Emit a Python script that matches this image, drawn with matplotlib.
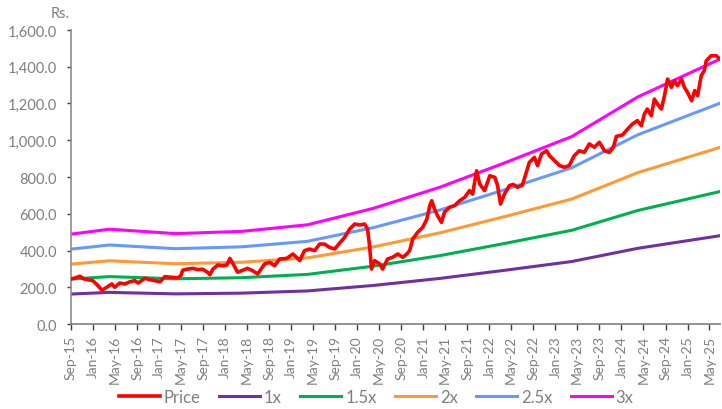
import numpy as np
import pandas as pd
import matplotlib
matplotlib.use('Agg')
import matplotlib.pyplot as plt
import matplotlib.dates as mdates
from matplotlib.ticker import FuncFormatter

plt.rcParams['font.family'] = ['Lato', 'DejaVu Sans']

# Kurs
price_dates = [
    '2015-09-01', '2015-09-23', '2015-10-20', '2015-11-12', '2015-12-04', '2015-12-31',
    '2016-01-28', '2016-02-19', '2016-03-17', '2016-04-14', '2016-04-30', '2016-05-28',
    '2016-06-25', '2016-07-23', '2016-08-19', '2016-09-06', '2016-10-14', '2016-11-11',
    '2016-12-08', '2017-01-05', '2017-02-02', '2017-03-11', '2017-04-13', '2017-04-30',
    '2017-05-11', '2017-06-02', '2017-07-05', '2017-08-02', '2017-08-30', '2017-09-27',
    '2017-10-08', '2017-10-25', '2017-11-21', '2017-12-19', '2018-01-10', '2018-01-27',
    '2018-02-12', '2018-03-10', '2018-04-07', '2018-05-04', '2018-06-02', '2018-06-29',
    '2018-08-07', '2018-09-04', '2018-10-01', '2018-10-29', '2018-12-07', '2019-01-10',
    '2019-02-06', '2019-02-17', '2019-03-15', '2019-04-12', '2019-05-10', '2019-06-07',
    '2019-07-04', '2019-08-01', '2019-08-29', '2019-09-26', '2019-10-24', '2019-11-20',
    '2019-12-18', '2020-01-15', '2020-02-11', '2020-02-27', '2020-03-09', '2020-03-20',
    '2020-04-06', '2020-05-04', '2020-05-20', '2020-06-17', '2020-07-14', '2020-08-12',
    '2020-09-09', '2020-09-30', '2020-10-17', '2020-11-03', '2020-11-30', '2020-12-28',
    '2021-01-20', '2021-02-05', '2021-02-16', '2021-03-03', '2021-03-20', '2021-04-11',
    '2021-04-27', '2021-05-25', '2021-06-22', '2021-07-20', '2021-08-17', '2021-09-13',
    '2021-09-30', '2021-10-22', '2021-11-08', '2021-12-05', '2022-01-03', '2022-01-31',
    '2022-02-15', '2022-03-03', '2022-03-25', '2022-04-21', '2022-05-13', '2022-06-05',
    '2022-07-02', '2022-07-24', '2022-08-10', '2022-09-07', '2022-09-24', '2022-10-16',
    '2022-11-13', '2022-11-29', '2022-12-27', '2023-01-24', '2023-02-19', '2023-03-18',
    '2023-04-15', '2023-05-13', '2023-06-10', '2023-07-07', '2023-08-04', '2023-09-01',
    '2023-09-29', '2023-10-26', '2023-11-17', '2023-12-04', '2024-01-07', '2024-02-04',
    '2024-03-01', '2024-03-29', '2024-04-20', '2024-05-07', '2024-05-23', '2024-06-14',
    '2024-07-01', '2024-07-18', '2024-08-09', '2024-08-26', '2024-09-12', '2024-10-03',
    '2024-10-20', '2024-11-06', '2024-11-28', '2024-12-14', '2024-12-31', '2025-01-23',
    '2025-02-09', '2025-02-25', '2025-03-17', '2025-04-03', '2025-04-14', '2025-05-11',
    '2025-06-08', '2025-06-25',
]
price = [
    245, 250, 260, 245, 241, 236,
    209, 184, 200, 218, 200, 223,
    218, 230, 236, 223, 249, 241,
    236, 230, 258, 254, 252, 262,
    293, 298, 303, 296, 298, 280,
    268, 299, 321, 317, 321, 357,
    330, 282, 292, 303, 290, 272,
    327, 336, 317, 354, 357, 381,
    357, 345, 399, 408, 399, 435,
    435, 417, 408, 441, 472, 517,
    544, 539, 544, 517, 426, 299,
    345, 327, 299, 354, 363, 381,
    363, 380, 400, 463, 499, 526,
    571, 644, 671, 626, 589, 553,
    608, 635, 644, 671, 689, 726,
    707, 834, 762, 726, 807, 798,
    753, 653, 707, 753, 760, 744,
    756, 826, 880, 907, 862, 925,
    943, 916, 889, 862, 853, 862,
    916, 943, 934, 980, 962, 989,
    943, 934, 962, 1021, 1029, 1061,
    1088, 1107, 1079, 1143, 1170, 1134,
    1224, 1197, 1170, 1243, 1333, 1288,
    1324, 1297, 1333, 1288, 1261, 1215,
    1270, 1243, 1351, 1379, 1433, 1460,
    1460, 1445,
]

# Basiswert fuer die Baender
base_dates = ['2015-09-01', '2016-04-01', '2017-04-01', '2018-04-01', '2019-04-01',
              '2020-04-01', '2021-04-01', '2022-04-01', '2023-04-01', '2024-04-01',
              '2025-06-25']
base = np.array([163, 172, 164, 168, 180, 210, 248, 293, 340, 412, 480])

multiples = [1, 1.5, 2, 2.5, 3]
band_labels = ['1x', '1.5x', '2x', '2.5x', '3x']
band_colors = ['#7030A0', '#00B050', '#FF9933', '#6699FF', '#FF00FF']

pd_price = pd.to_datetime(price_dates)
pd_base = pd.to_datetime(base_dates)

fig = plt.figure(figsize=(7.22, 4.10), dpi=100)
ax = fig.add_axes([0.0983, 0.2073, 0.8987, 0.7171])

ax.plot(pd_price, price, color='#FF0000', lw=2.6, label='Price', zorder=5)
for k, lab, c in zip(multiples, band_labels, band_colors):
    ax.plot(pd_base, base * k, color=c, lw=2.2, label=lab)

ax.set_ylim(0, 1600)
ax.set_xlim(pd.Timestamp('2015-09-01'), pd.Timestamp('2025-06-28'))
ax.set_yticks(np.arange(0, 1601, 200))
ax.yaxis.set_major_formatter(FuncFormatter(lambda v, p: '{:,.1f}'.format(v)))
ax.xaxis.set_major_locator(mdates.MonthLocator(bymonth=[1, 5, 9]))
ax.xaxis.set_major_formatter(mdates.DateFormatter('%b-%y'))

for s in ['top', 'right']:
    ax.spines[s].set_visible(False)
ax.spines['left'].set_color('#8c8c8c')
ax.spines['left'].set_linewidth(1.2)
ax.spines['bottom'].set_color('#7f7f7f')
ax.spines['bottom'].set_linewidth(1.2)

ax.tick_params(axis='y', length=3, width=1, color='#404040', pad=7,
               labelsize=10.5, labelcolor='#7f7f7f')
ax.tick_params(axis='x', length=4, width=1, color='#404040', pad=4,
               labelsize=10, labelcolor='#7f7f7f', labelrotation=90)

fig.text(0.097, 0.955, 'Rs.', ha='right', va='baseline', fontsize=10.5, color='#7f7f7f')

ax.legend(loc='center', bbox_to_anchor=(0.521, 0.029), bbox_transform=fig.transFigure,
          ncol=6, frameon=False, fontsize=12, labelcolor='#7f7f7f',
          handlelength=2.45, handletextpad=0.25, columnspacing=1.1)

plt.savefig('out.png', dpi=100)
